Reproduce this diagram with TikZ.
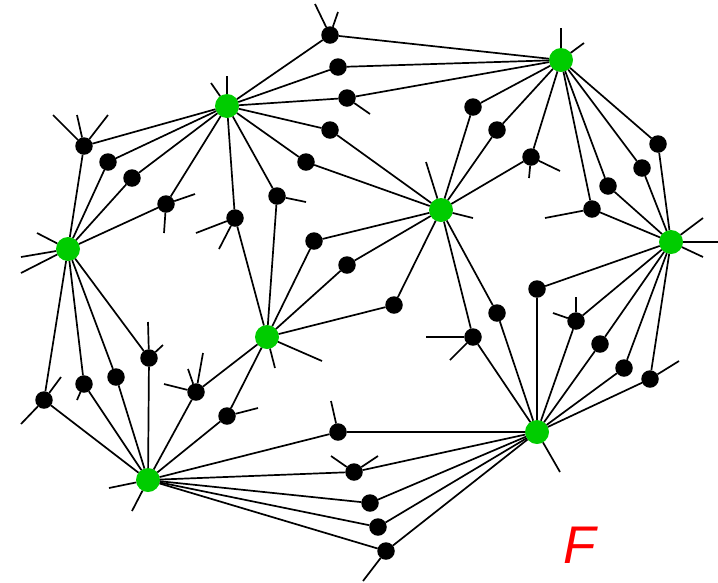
\documentclass[tikz,border=0pt]{standalone}
\usepackage{fontspec}
\setmainfont{Liberation Sans}
\definecolor{hubgreen}{RGB}{0,204,0}
\tikzset{
  hub/.style={circle,fill=hubgreen,inner sep=0pt,outer sep=0pt,minimum size=24pt},
  dot/.style={circle,fill=black,inner sep=0pt,outer sep=0pt,minimum size=17.5pt},
  link/.style={black,line width=1.7pt}
}
\begin{document}
\begin{tikzpicture}[x=1pt,y=-1pt]
  \useasboundingbox (0,0) rectangle (718,582);

  \foreach \n/\x/\y in {ga/227/106, gb/561/60, gc/68/249, gd/441/210,
      ge/671/242, gf/267/337, gg/537/432, gh/148/480}
    \node[hub] (\n) at (\x,\y) {};

  \foreach \n/\x/\y in {b1/330/35, b2/338/67, b3/347/98, b4/330/130, b5/306/162,
      b6/84/146, b7/108/162, b8/132/178, b9/166/204, b10/235/218, b11/277/196,
      b12/314/241, b13/347/265, b14/394/305, b15/473/107, b16/497/130, b17/531/157,
      b18/658/144, b19/642/168, b20/608/186, b21/592/209, b22/537/289, b23/576/321,
      b24/600/344, b25/624/368, b26/650/379, b27/497/313, b28/473/337, b29/44/400,
      b30/84/384, b31/116/377, b32/149/358, b33/196/392, b34/227/416, b35/338/432,
      b36/354/472, b37/370/503, b38/378/527, b39/386/551}
    \node[dot] (\n) at (\x,\y) {};

  \foreach \d/\p/\q in {b1/ga/gb, b2/ga/gb, b3/ga/gb, b4/ga/gd, b5/ga/gd,
      b6/ga/gc, b7/ga/gc, b8/ga/gc, b9/ga/gc, b10/ga/gf, b11/ga/gf,
      b12/gf/gd, b13/gf/gd, b14/gf/gd, b15/gb/gd, b16/gb/gd, b17/gb/gd,
      b18/gb/ge, b19/gb/ge, b20/gb/ge, b21/gb/ge, b22/ge/gg, b23/ge/gg,
      b24/ge/gg, b25/ge/gg, b26/ge/gg, b27/gd/gg, b28/gd/gg, b29/gc/gh,
      b30/gc/gh, b31/gc/gh, b32/gc/gh, b33/gf/gh, b34/gf/gh, b35/gh/gg,
      b36/gh/gg, b37/gh/gg, b38/gh/gg, b39/gh/gg}
    \draw[link] (\p) -- (\d) -- (\q);

  \foreach \n/\x/\y in {s1a/315/4, s1b/338/12, s3/370/114, s6a/53/115, s6b/77/115,
      s6c/108/115, s9a/195/194, s9b/164/233, s10a/196/233, s10b/219/249, s11/306/202,
      s17a/529/178, s17b/560/171, s21/545/218, s23a/553/313, s23b/576/297, s26/679/361,
      s28a/426/337, s28b/450/360, s29a/61/377, s29b/21/424, s30/77/400, s32a/148/322,
      s32b/163/345, s33a/164/384, s33b/188/369, s33c/203/353, s34/258/408, s35/331/401,
      s36a/331/456, s36b/378/456, s39/363/581,
      sga/227/76, sgb/211/83, sgc/561/28, sgd/584/43, sge/37/233, sgf/21/257,
      sgg/21/273, sgh/426/162, sgi/473/218, sgj/703/218, sgk/718/242, sgl/703/257,
      sgm/322/361, sgn/275/368, sgo/560/472, sgp/109/488, sgq/132/511}
    \coordinate (\n) at (\x,\y);

  \foreach \a/\b in {b1/s1a, b1/s1b, b3/s3, b6/s6a, b6/s6b, b6/s6c, b9/s9a, b9/s9b,
      b10/s10a, b10/s10b, b11/s11, b17/s17a, b17/s17b, b21/s21, b23/s23a, b23/s23b,
      b26/s26, b28/s28a, b28/s28b, b29/s29a, b29/s29b, b30/s30, b32/s32a, b32/s32b,
      b33/s33a, b33/s33b, b33/s33c, b34/s34, b35/s35, b36/s36a, b36/s36b, b39/s39,
      ga/sga, ga/sgb, gb/sgc, gb/sgd, gc/sge, gc/sgf, gc/sgg, gd/sgh, gd/sgi,
      ge/sgj, ge/sgk, ge/sgl, gf/sgm, gf/sgn, gg/sgo, gh/sgp, gh/sgq}
    \draw[link] (\a) -- (\b);

  \node[text=red,inner sep=0pt] (flabel) at (580,545) {\fontsize{53}{53}\selectfont\itshape F};
\end{tikzpicture}
\end{document}
